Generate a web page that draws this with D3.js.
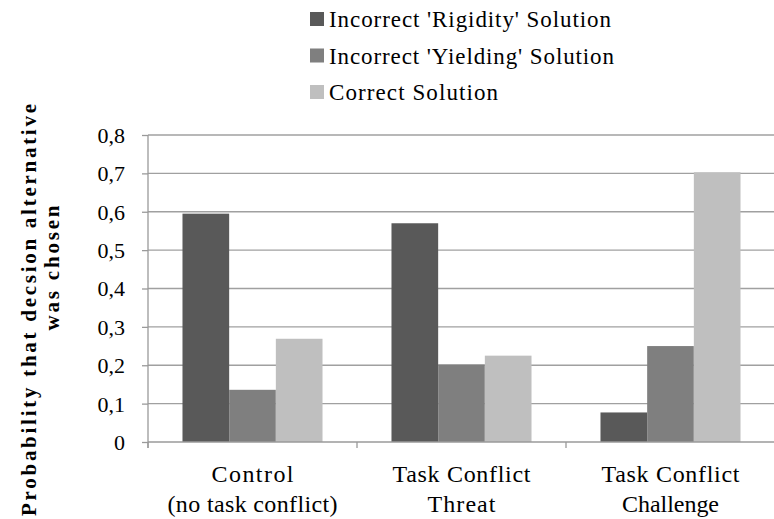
<!DOCTYPE html>
<html>
<head>
<meta charset="utf-8">
<script src="https://cdn.jsdelivr.net/npm/d3@7/dist/d3.min.js"></script>
<style>
  html, body { margin: 0; padding: 0; background: #fff; }
  svg { display: block; }
</style>
</head>
<body>
<svg id="chart" width="774" height="519"></svg>
<script>
const categories = [["Control", "(no task conflict)"], ["Task Conflict", "Threat"], ["Task Conflict", "Challenge"]];
const seriesNames = ["Incorrect 'Rigidity' Solution", "Incorrect 'Yielding' Solution", "Correct Solution"];
const rigidity = [0.595, 0.570, 0.077];
const yielding = [0.136, 0.202, 0.250];
const correct = [0.269, 0.225, 0.703];
const yTicks = [0, 0.1, 0.2, 0.3, 0.4, 0.5, 0.6, 0.7, 0.8];
const yTitle = ["Probability that decsion alternative", "was chosen"];
const colors = ["#595959", "#7f7f7f", "#bfbfbf"];

// measured text widths from the reference (layout only)
const legendWidths = [282, 285, 169];
const categoryWidths = [[82, 170], [138, 68], [138, 97]];

const FONT = "'Liberation Serif', 'DejaVu Serif', serif";
const seriesValues = [rigidity, yielding, correct];
const svg = d3.select("#chart");

const plotLeft = 148, plotRight = 775, plotTop = 135, plotBottom = 442;
const catIdx = categories.map((c, i) => i);
const x0 = d3.scaleBand().domain(catIdx).range([plotLeft, plotRight]).padding(0);
const bw = x0.bandwidth();
const x1 = d3.scaleBand().domain(d3.range(seriesNames.length)).range([bw * 0.165, bw * 0.835]).padding(0);
const y = d3.scaleLinear().domain([0, 0.8]).range([plotBottom, plotTop]);

// gridlines
svg.append("g")
  .selectAll("line")
  .data(yTicks.filter(t => t > 0))
  .join("line")
  .attr("x1", plotLeft).attr("x2", plotRight)
  .attr("y1", d => y(d)).attr("y2", d => y(d))
  .attr("stroke", "#a0a0a0").attr("stroke-width", 1.3);

// bars
const groups = svg.append("g").selectAll("g")
  .data(catIdx)
  .join("g")
  .attr("transform", d => `translate(${x0(d)},0)`);
groups.selectAll("rect")
  .data(ci => seriesValues.map((vals, si) => ({si, v: vals[ci]})))
  .join("rect")
  .attr("x", d => x1(d.si))
  .attr("width", x1.bandwidth())
  .attr("y", d => y(d.v))
  .attr("height", d => y(0) - y(d.v))
  .attr("fill", d => colors[d.si]);

// y axis
const yAxis = d3.axisLeft(y).tickValues(yTicks).tickSize(6)
  .tickFormat(d => d === 0 ? "0" : d3.format(".1f")(d).replace(".", ","));
const gy = svg.append("g").attr("transform", `translate(${plotLeft},0)`).call(yAxis)
  .attr("font-family", FONT).attr("font-size", 22);
gy.select(".domain").remove();
gy.selectAll(".tick line").attr("stroke", "#9a9a9a").attr("stroke-width", 1.3);
gy.selectAll(".tick text")
  .attr("x", -23)
  .attr("dy", "0.34em")
  .attr("fill", "#000");
gy.append("line")
  .attr("x1", 0).attr("x2", 0)
  .attr("y1", plotTop).attr("y2", plotBottom + 6)
  .attr("stroke", "#9a9a9a").attr("stroke-width", 1.3);

// x axis
const gx = svg.append("g").attr("transform", `translate(0,${plotBottom})`);
gx.append("line")
  .attr("x1", plotLeft).attr("x2", plotRight)
  .attr("stroke", "#9a9a9a").attr("stroke-width", 1.3);
gx.selectAll("line.tick")
  .data(catIdx.map(i => x0(i)).concat([plotRight]))
  .join("line")
  .attr("class", "tick")
  .attr("x1", d => d).attr("x2", d => d)
  .attr("y1", 0).attr("y2", 6)
  .attr("stroke", "#9a9a9a").attr("stroke-width", 1.3);
catIdx.forEach(i => {
  categories[i].forEach((line, li) => {
    gx.append("text")
      .attr("x", x0(i) + bw / 2)
      .attr("y", 40 + li * 29.5)
      .attr("text-anchor", "middle")
      .attr("font-family", FONT)
      .attr("font-size", 24)
      .attr("textLength", categoryWidths[i][li])
      .attr("lengthAdjust", "spacing")
      .text(line);
  });
});

// y title
const titlePos = [{x: 36, y: 310, len: 412}, {x: 59, y: 268, len: 125}];
svg.append("g").selectAll("text")
  .data(yTitle)
  .join("text")
  .attr("transform", (d, i) => `translate(${titlePos[i].x},${titlePos[i].y}) rotate(-90)`)
  .attr("text-anchor", "middle")
  .attr("textLength", (d, i) => titlePos[i].len)
  .attr("lengthAdjust", "spacing")
  .attr("font-family", FONT)
  .attr("font-size", 21)
  .attr("font-weight", "bold")
  .text(d => d);

// legend
const legend = svg.append("g").attr("transform", "translate(310,0)");
const legendItems = legend.selectAll("g")
  .data(seriesNames)
  .join("g")
  .attr("transform", (d, i) => `translate(0,${12 + i * 36.5})`);
legendItems.append("rect")
  .attr("width", 14).attr("height", 14)
  .attr("fill", (d, i) => colors[i]);
legendItems.append("text")
  .attr("x", 19)
  .attr("y", 15)
  .attr("font-family", FONT)
  .attr("font-size", 23)
  .attr("textLength", (d, i) => legendWidths[i])
  .attr("lengthAdjust", "spacing")
  .text(d => d);
</script>
</body>
</html>
